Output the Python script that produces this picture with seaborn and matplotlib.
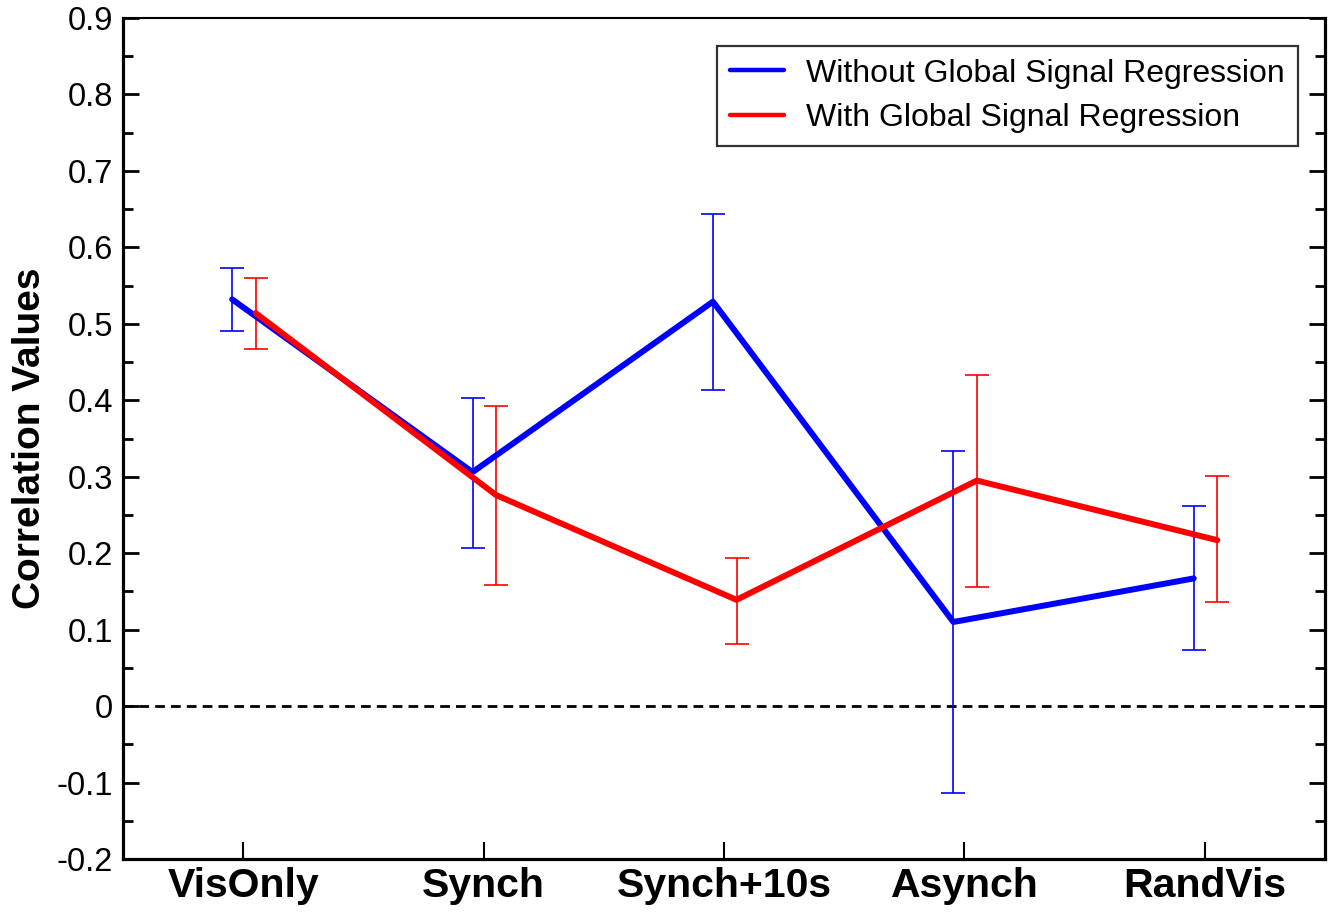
import numpy as np
import pandas as pd
import matplotlib
matplotlib.use("Agg")
import matplotlib.pyplot as plt
import seaborn as sns
from matplotlib.ticker import FixedLocator, MultipleLocator

# Datos
categorias = ["VisOnly", "Synch", "Synch+10s", "Asynch", "RandVis"]
sin_gsr = [0.532, 0.306, 0.529, 0.110, 0.167]
sin_gsr_bajo = [0.491, 0.207, 0.413, -0.114, 0.074]
sin_gsr_alto = [0.573, 0.403, 0.644, 0.334, 0.262]
con_gsr = [0.514, 0.276, 0.139, 0.295, 0.217]
con_gsr_bajo = [0.467, 0.158, 0.081, 0.156, 0.136]
con_gsr_alto = [0.560, 0.392, 0.194, 0.433, 0.301]
y_ticks = [-0.2, -0.1, 0.0, 0.1, 0.2, 0.3, 0.4, 0.5, 0.6, 0.7, 0.8, 0.9]
y_labels = ["-0.2", "-0.1", "0", "0.1", "0.2", "0.3", "0.4", "0.5", "0.6", "0.7", "0.8", "0.9"]
etiquetas = ["Without Global Signal Regression", "With Global Signal Regression"]

sns.set_style("white")
plt.rcParams['font.family'] = ['Liberation Sans', 'DejaVu Sans']
plt.rcParams['axes.unicode_minus'] = False
for k in ["text.color", "axes.labelcolor", "xtick.color", "ytick.color", "axes.edgecolor"]:
    plt.rcParams[k] = "black"

fig = plt.figure(figsize=(13.34, 9.15), dpi=100)
ax = fig.add_axes([123/1334, 1 - 859/915, 1202/1334, 841/915])

pos = np.arange(len(categorias))
series = [
    (sin_gsr, sin_gsr_bajo, sin_gsr_alto, -0.046, "#0000ff", etiquetas[0]),
    (con_gsr, con_gsr_bajo, con_gsr_alto, 0.052, "#ff0000", etiquetas[1]),
]

ax.axhline(0, color="black", linestyle=(0, (3.5, 2.2)), linewidth=2, zorder=1)

for i, (val, lo, hi, off, color, lab) in enumerate(series):
    val = np.array(val)
    x = pos + off
    ax.errorbar(x, val, yerr=[val - np.array(lo), np.array(hi) - val], fmt="none",
                ecolor=color, elinewidth=1.4, capsize=8.6, capthick=1.4, alpha=0.85, zorder=2)
    df = pd.DataFrame({"x": x, "valor": val})
    sns.lineplot(data=df, x="x", y="valor", color=color, linewidth=4.3, label=lab,
                 ax=ax, zorder=3 + i, sort=False)

ax.set_xlim(-0.5, len(categorias) - 0.5)
ax.set_ylim(-0.2, 0.9)
ax.set_xticks(pos)
ax.set_xticklabels(categorias, fontsize=29.5, fontweight="bold")
ax.yaxis.set_major_locator(FixedLocator(y_ticks))
ax.set_yticklabels(y_labels, fontsize=23.5)
ax.yaxis.set_minor_locator(MultipleLocator(0.05))
ax.tick_params(axis="y", which="major", direction="in", length=11.5, width=2,
               left=True, right=True, pad=7)
ax.tick_params(axis="y", which="minor", direction="in", length=7, width=2,
               left=True, right=True)
ax.tick_params(axis="x", which="major", direction="in", length=12, width=1.5,
               bottom=True, top=False, pad=6)

ax.set_xlabel("")
ax.set_ylabel("Correlation Values", fontsize=28, fontweight="bold")
ax.yaxis.set_label_coords(-0.062, 0.5)

for lado in ["left", "right", "bottom"]:
    ax.spines[lado].set_linewidth(2.3)
ax.spines["top"].set_linewidth(1.5)

leg = ax.legend(loc="upper right", bbox_to_anchor=(0.9775, 0.967), borderaxespad=0,
                fontsize=23, frameon=True, fancybox=False, edgecolor="black",
                handlelength=1.7, handletextpad=0.7, borderpad=0.4, labelspacing=0.45)
leg.get_frame().set_linewidth(1.6)
for h in leg.get_lines():
    h.set_linewidth(3.2)

fig.savefig("out.png", dpi=100)
plt.close()
